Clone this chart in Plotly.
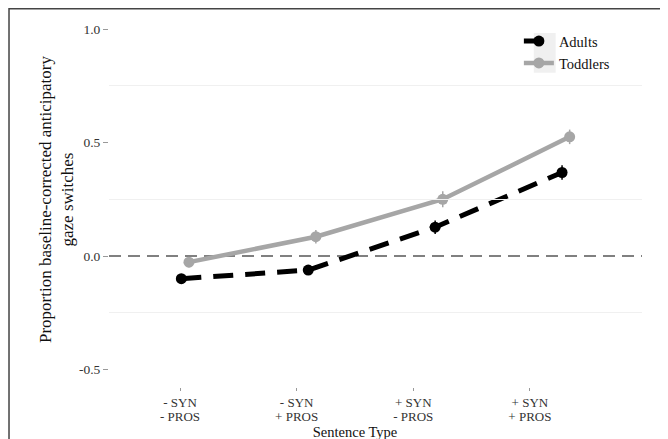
import plotly.graph_objects as go

# sentence types (x categories), split in the two label lines
syn_labels = ["- SYN", "- SYN", "+ SYN", "+ SYN"]
pros_labels = ["- PROS", "+ PROS", "- PROS", "+ PROS"]

# mean proportion of baseline-corrected anticipatory gaze switches
adults = [-0.100, -0.062, 0.127, 0.368]
adults_err = [0.012, 0.012, 0.030, 0.032]
toddlers = [-0.027, 0.085, 0.250, 0.525]
toddlers_err = [0.022, 0.030, 0.035, 0.032]

y_ticks = [-0.5, 0.0, 0.5, 1.0]
y_minor = [-0.25, 0.25, 0.75]

dodge = 0.03
idx = list(range(len(syn_labels)))

SERIF = "Liberation Serif"
TICK_SIZE = 13.5
XTICK_SIZE = 13

fig = go.Figure()

fig.add_trace(go.Scatter(
    x=[i - dodge for i in idx], y=adults,
    mode="lines+markers", name="Adults",
    line=dict(color="black", width=5, dash="20px,12px"),
    marker=dict(color="black", size=11),
    error_y=dict(type="data", array=adults_err, color="black", thickness=1.5, width=0),
))
fig.add_trace(go.Scatter(
    x=[i + dodge for i in idx], y=toddlers,
    mode="lines+markers", name="Toddlers",
    line=dict(color="#a6a6a6", width=4.5),
    marker=dict(color="#a6a6a6", size=11),
    error_y=dict(type="data", array=toddlers_err, color="#a6a6a6", thickness=1.5, width=0),
))

# empty traces so the two label axes get drawn
for ax in ("x2", "x3"):
    fig.add_trace(go.Scatter(
        x=idx, y=[None] * len(idx), xaxis=ax, yaxis="y",
        mode="markers", showlegend=False, hoverinfo="skip",
    ))

# reference line at zero
fig.add_hline(y=0, line=dict(color="#808080", width=2, dash="12px,7px"), layer="below")

# grey legend key background
fig.add_shape(type="rect", xref="paper", yref="paper",
              x0=0.797, x1=0.838, y0=0.838, y1=0.944,
              line=dict(width=0), fillcolor="#f0f0f0", layer="below")

# frame around the figure (cropped on right/bottom)
fig.add_shape(type="rect", xref="paper", yref="paper",
              x0=-0.1876, x1=1.3, y0=-0.5, y1=1.0087,
              line=dict(color="#444444", width=1.5), fillcolor="rgba(0,0,0,0)")

fig.update_layout(
    width=668, height=439,
    margin=dict(l=101, r=34, t=4, b=60, autoexpand=False),
    paper_bgcolor="white", plot_bgcolor="rgba(0,0,0,0)",
    font=dict(family=SERIF, color="#222222", size=TICK_SIZE),
    showlegend=True,
    legend=dict(x=0.769, y=0.965, xanchor="left", yanchor="top",
                font=dict(family=SERIF, size=14.5, color="#111111"),
                bgcolor="rgba(0,0,0,0)", itemwidth=30, tracegroupgap=0),
    xaxis=dict(range=[-0.6, 3.6], showticklabels=False, ticks="",
               showgrid=False, zeroline=False, showline=False, automargin=False),
    xaxis2=dict(domain=[0.002, 0.921], anchor="y", range=[-0.6, 3.6],
                tickvals=idx, ticktext=syn_labels,
                ticks="outside", ticklen=3, tickcolor="#999999", tickwidth=1,
                tickfont=dict(family=SERIF, size=XTICK_SIZE, color="#333333"),
                showgrid=False, zeroline=False, showline=False, automargin=False),
    xaxis3=dict(overlaying="x2", anchor="y", range=[-0.6, 3.6],
                tickvals=idx, ticktext=pros_labels, ticks="",
                ticklabelstandoff=20,
                tickfont=dict(family=SERIF, size=XTICK_SIZE, color="#333333"),
                showgrid=False, zeroline=False, showline=False, automargin=False,
                title=dict(text="Sentence Type", standoff=0,
                           font=dict(family=SERIF, size=14.5, color="#111111"))),
    yaxis=dict(range=[-0.577, 1.075], tickvals=y_ticks,
               ticktext=[f"{v:.1f}" for v in y_ticks],
               ticks="outside", ticklen=5, tickcolor="#999999", tickwidth=1,
               tickfont=dict(family=SERIF, size=TICK_SIZE, color="#333333"),
               showgrid=False, zeroline=False, showline=False, automargin=False,
               minor=dict(tickvals=y_minor, showgrid=True, gridcolor="#f0f0f0",
                          gridwidth=1, ticks=""),
               title=dict(text="Proportion baseline-corrected anticipatory<br>gaze switches",
                          standoff=0,
                          font=dict(family=SERIF, size=17, color="#111111"))),
)

fig.write_html("out.html")
